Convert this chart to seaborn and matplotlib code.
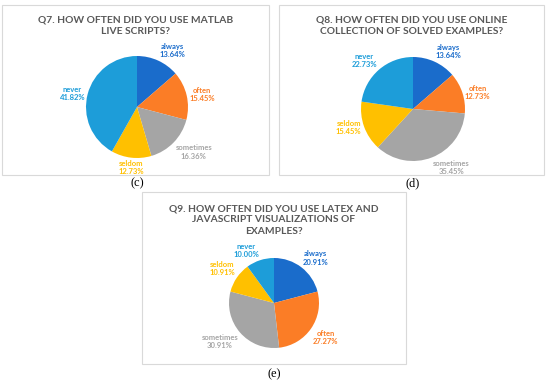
import matplotlib
matplotlib.use('Agg')
import numpy as np
import matplotlib.pyplot as plt
from matplotlib.patches import Rectangle
import seaborn as sns

sns.set_theme(style='white')
plt.rcParams['font.family'] = ['Lato', 'DejaVu Sans']

categories = ['always', 'often', 'sometimes', 'seldom', 'never']
q7_values = [13.64, 15.45, 16.36, 12.73, 41.82]
q8_values = [13.64, 12.73, 35.45, 15.45, 22.73]
q9_values = [20.91, 27.27, 30.91, 10.91, 10.00]
colors = sns.color_palette(['#1a6ccb', '#fb7d26', '#a5a5a5', '#ffc000', '#1d9dd9'])

W, H = 550, 384
fig = plt.figure(figsize=(W / 100, H / 100), dpi=100)

panels = [
    # values, title, caption, box (x0, y0, x1, y1), pie center, radius, title y, caption y
    (q7_values, 'Q7. HOW OFTEN DID YOU USE MATLAB\nLIVE SCRIPTS?', '(c)',
     (2, 5, 269, 175), (137, 107), 51, 26, 183),
    (q8_values, 'Q8. HOW OFTEN DID YOU USE ONLINE\nCOLLECTION OF SOLVED EXAMPLES?', '(d)',
     (279, 5, 544, 175), (413, 109), 52, 26, 183),
    (q9_values, 'Q9. HOW OFTEN DID YOU USE LATEX AND\nJAVASCRIPT VISUALIZATIONS OF\nEXAMPLES?', '(e)',
     (142, 192, 406, 364), (274, 303), 45, 220, 374),
]

for values, title, caption, box, (cx, cy), r, ty, capy in panels:
    x0, y0, x1, y1 = box
    fig.add_artist(Rectangle((x0 / W, 1 - y1 / H), (x1 - x0) / W, (y1 - y0) / H,
                             transform=fig.transFigure, fill=False,
                             edgecolor='#d9d9d9', lw=0.8))
    ax = fig.add_axes([(cx - r) / W, 1 - (cy + r) / H, 2 * r / W, 2 * r / H])
    labels = [f'{c}\n{v:.2f}%' for c, v in zip(categories, values)]
    wedges, texts = ax.pie(values, colors=colors, startangle=90, counterclock=False,
                           labels=labels, labeldistance=1.05,
                           wedgeprops=dict(linewidth=0),
                           textprops=dict(fontsize=5.5, fontweight='bold'))
    # excel-like "best fit": keep the label box just outside the slice
    for w, t, col in zip(wedges, texts, colors):
        mid = np.deg2rad((w.theta1 + w.theta2) / 2)
        c, s = np.cos(mid), np.sin(mid)
        t.set_color(col)
        t.set_multialignment('center')
        t.set_horizontalalignment('center' if abs(c) < 0.25 else ('left' if c > 0 else 'right'))
        t.set_verticalalignment('center' if abs(s) < 0.5 else ('bottom' if s > 0 else 'top'))
    ax.set_xlim(-1, 1)
    ax.set_ylim(-1, 1)
    ax.set_aspect('equal')
    ax.axis('off')
    tx = (x0 + x1) / 2
    fig.text(tx / W, 1 - ty / H, title, ha='center', va='center', fontsize=7.4,
             fontweight='bold', color='#595959', linespacing=1.3)
    fig.text(cx / W, 1 - capy / H, caption, ha='center', va='center', fontsize=9,
             family='Liberation Serif', color='black')

plt.savefig('out.png', dpi=100)
